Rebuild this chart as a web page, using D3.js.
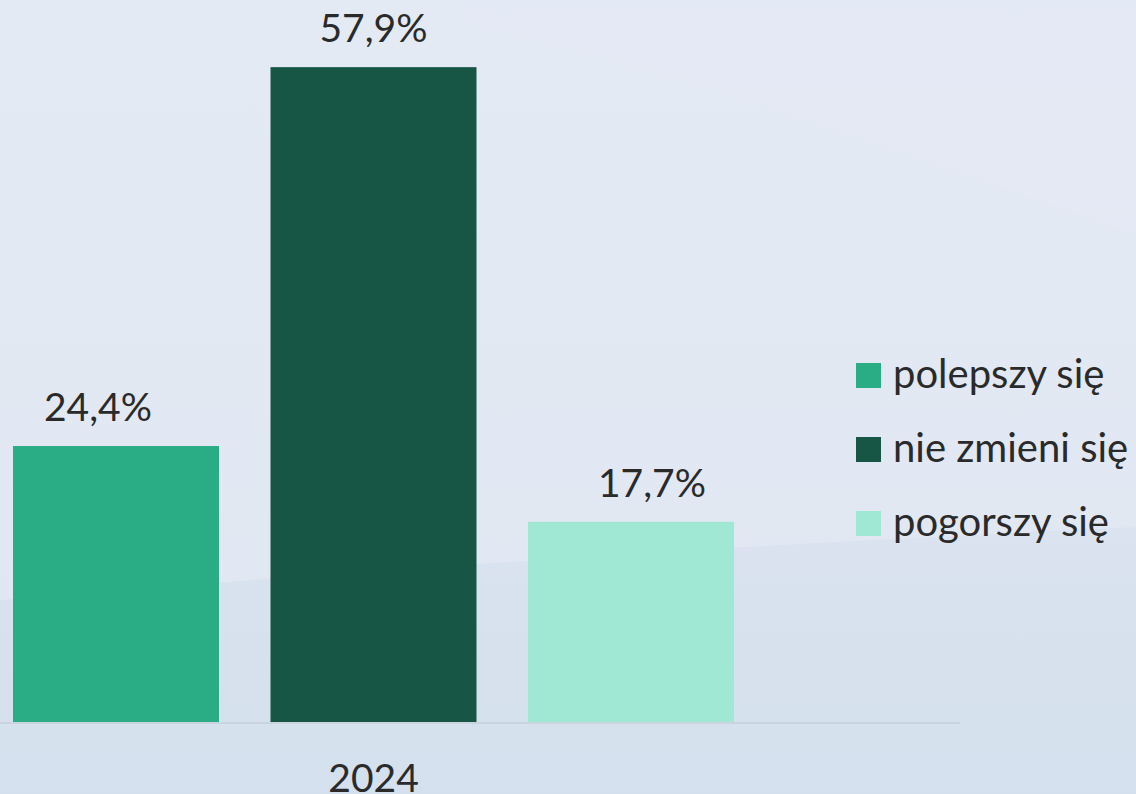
<!DOCTYPE html>
<html>
<head>
<meta charset="utf-8">
<script src="https://cdn.jsdelivr.net/npm/d3@7"></script>
<style>
html,body{margin:0;padding:0;background:#e3e9f3;}
svg{display:block;}
text{font-family:Lato,"Noto Sans",sans-serif;fill:#2a2a2a;}
</style>
</head>
<body>
<svg id="chart" width="1136" height="794"></svg>
<script>
const categories = ["2024"];
const series = ["polepszy się", "nie zmieni się", "pogorszy się"];
const values = [24.4, 57.9, 17.7];
const colors = ["#2aad85", "#175645", "#a0e8d3"];
const valueLabels = ["24,4%", "57,9%", "17,7%"];

const W = 1136, H = 794;
const svg = d3.select("#chart");
const labelShift = [-18, 0, 21];

// background
const defs = svg.append("defs");
const g1 = defs.append("linearGradient").attr("id","bg").attr("x1",0).attr("y1",0).attr("x2",0).attr("y2",1);
g1.append("stop").attr("offset","0%").attr("stop-color","#e4eaf4");
g1.append("stop").attr("offset","100%").attr("stop-color","#e0e7f2");
svg.append("rect").attr("width",W).attr("height",H).attr("fill","url(#bg)");
const g2 = defs.append("linearGradient").attr("id","bg2").attr("x1",0).attr("y1",0).attr("x2",0).attr("y2",1);
g2.append("stop").attr("offset","0%").attr("stop-color","#dae3ef");
g2.append("stop").attr("offset","100%").attr("stop-color","#d4e0ed");
const curvePts = [[0,600],[217,582],[507,562],[725,547],[1136,527]];
const lowerArea = d3.area().x(d=>d[0]).y0(H).y1(d=>d[1]).curve(d3.curveBasis);
svg.append("path").attr("d", lowerArea(curvePts)).attr("fill","url(#bg2)");
// faint upper diagonal band
svg.append("path")
  .attr("d", d3.line().curve(d3.curveBasis)([[470,25],[700,80],[900,150],[1136,235]]) + "L1136,0L470,0Z")
  .attr("fill","#e6ecf5").attr("opacity",0.35);

const baseY = 722;
const y = d3.scaleLinear().domain([0, 60]).range([baseY, baseY - 60 * 11.31]);
const x0 = d3.scaleBand().domain(categories).range([13, 734]);
const x1 = d3.scaleBand().domain(series).range([0, x0.bandwidth()]).paddingInner(0.2);

// baseline
svg.append("line").attr("x1",0).attr("x2",960).attr("y1",y(0)+1).attr("y2",y(0)+1)
  .attr("stroke","#cad4e1").attr("stroke-width",2);

const grp = svg.append("g").selectAll("g").data(categories).join("g")
  .attr("transform", d => `translate(${x0(d)},0)`);

const data = series.map((s,i)=>({s, v: values[i], c: colors[i], l: valueLabels[i], dx: labelShift[i]}));
grp.selectAll("rect").data(data).join("rect")
  .attr("x", d => x1(d.s)).attr("width", x1.bandwidth())
  .attr("y", d => y(d.v)).attr("height", d => y(0) - y(d.v))
  .attr("fill", d => d.c);
grp.selectAll("text.val").data(data).join("text").attr("class","val")
  .attr("x", d => x1(d.s) + x1.bandwidth()/2 + d.dx).attr("y", d => y(d.v) - 25)
  .attr("text-anchor","middle").attr("font-size",39).text(d => d.l);

// x axis labels
const axis = svg.append("g").attr("transform",`translate(0,${baseY})`)
  .call(d3.axisBottom(x0).tickSize(0).tickPadding(0));
axis.select(".domain").remove();
axis.selectAll("text").attr("y",70).attr("dy",0).attr("font-size",39)
  .style("font-family","Lato, 'Noto Sans', sans-serif").attr("fill","#2a2a2a");

// legend
const leg = svg.append("g").selectAll("g").data(series).join("g")
  .attr("transform",(d,i)=>`translate(856,${363 + i*74})`);
leg.append("rect").attr("width",25).attr("height",25).attr("fill",(d,i)=>colors[i]);
leg.append("text").attr("x",37).attr("y",25).attr("font-size",40).text(d=>d);
</script>
</body>
</html>
